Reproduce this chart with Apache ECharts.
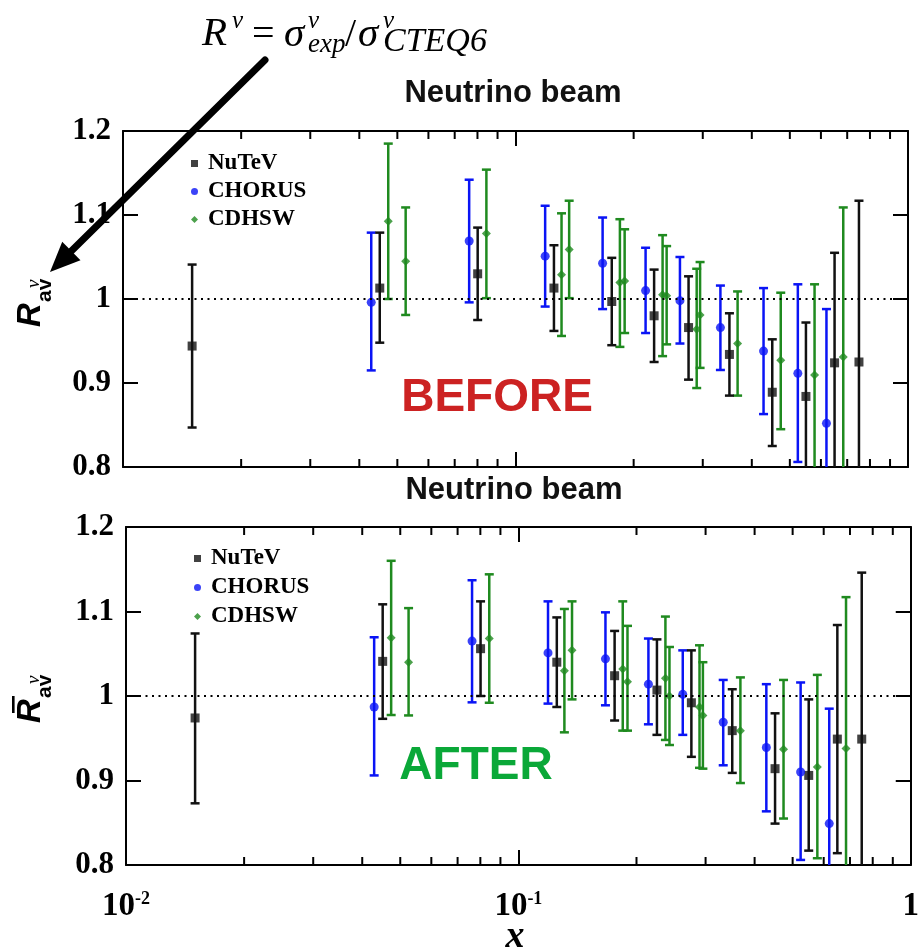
<!DOCTYPE html>
<html><head><meta charset="utf-8">
<script src="https://cdn.jsdelivr.net/npm/echarts@6/dist/echarts.min.js"></script>
<style>html,body{margin:0;padding:0;background:#fff}#c{width:922px;height:951px}</style>
</head><body><div id="c"></div>
<script>
// ---------- tick labels ----------
const xTickValues = [0.01, 0.1, 1];
const xTickBase = ['10', '10', '1'];
const xTickExp = ['-2', '-1', ''];
const xMinorTicks = [0.02,0.03,0.04,0.05,0.06,0.07,0.08,0.09,0.2,0.3,0.4,0.5,0.6,0.7,0.8,0.9];
const yTickValues = [0.8, 0.9, 1.0, 1.1, 1.2];
const yTickLabels = ['0.8', '0.9', '1', '1.1', '1.2'];

// ---------- x bins ----------
const xNuTeV = [0.015, 0.0451, 0.0801, 0.1253, 0.1759, 0.2255, 0.276, 0.3508, 0.451, 0.5495, 0.650, 0.750];
const xCHORUS = [0.0429, 0.0762, 0.119, 0.1667, 0.2145, 0.2624, 0.3327, 0.4285, 0.524, 0.6198];
const xCDHSW = [0.0474, 0.0525, 0.0843, 0.131, 0.137, 0.1845, 0.1897, 0.237, 0.2427, 0.2895, 0.2953, 0.368, 0.474, 0.578, 0.684];

// ---------- BEFORE (top panel) ----------
const beforeNuTeV   = [0.944, 1.013, 1.030, 1.013, 0.997, 0.980, 0.966, 0.934, 0.889, 0.884, 0.924, 0.925];
const beforeNuTeVHi = [1.041, 1.079, 1.085, 1.064, 1.049, 1.035, 1.027, 0.983, 0.952, 0.972, 1.055, 1.117];
const beforeNuTeVLo = [0.847, 0.948, 0.975, 0.962, 0.945, 0.925, 0.904, 0.885, 0.825, 0.796, 0.793, 0.733];
const beforeCHORUS   = [0.996, 1.069, 1.051, 1.0425, 1.010, 0.998, 0.966, 0.938, 0.9115, 0.852];
const beforeCHORUSHi = [1.079, 1.142, 1.111, 1.097, 1.061, 1.050, 1.016, 1.013, 1.0175, 0.988];
const beforeCHORUSLo = [0.915, 0.996, 0.991, 0.988, 0.9595, 0.947, 0.9155, 0.863, 0.806, 0.716];
const beforeCDHSW   = [1.0925, 1.045, 1.078, 1.029, 1.059, 1.0195, 1.0214, 1.005, 1.004, 0.964, 0.981, 0.947, 0.927, 0.9095, 0.931];
const beforeCDHSWHi = [1.185, 1.109, 1.154, 1.102, 1.117, 1.095, 1.083, 1.076, 1.063, 1.036, 1.044, 1.009, 1.0075, 1.0175, 1.109];
const beforeCDHSWLo = [1.000, 0.981, 1.001, 0.956, 1.001, 0.943, 0.9595, 0.932, 0.946, 0.894, 0.918, 0.885, 0.845, 0.798, 0.753];

// ---------- AFTER (bottom panel) ----------
const afterNuTeV   = [0.974, 1.041, 1.056, 1.040, 1.024, 1.007, 0.992, 0.959, 0.914, 0.906, 0.949, 0.949];
const afterNuTeVHi = [1.074, 1.1085, 1.112, 1.093, 1.077, 1.067, 1.054, 1.008, 0.9795, 0.996, 1.084, 1.146];
const afterNuTeVLo = [0.873, 0.973, 1.000, 0.987, 0.971, 0.954, 0.928, 0.909, 0.849, 0.817, 0.814, 0.752];
const afterCHORUS   = [0.987, 1.065, 1.051, 1.044, 1.014, 1.002, 0.969, 0.939, 0.910, 0.849];
const afterCHORUSHi = [1.0695, 1.137, 1.112, 1.099, 1.068, 1.054, 1.019, 1.014, 1.016, 0.985];
const afterCHORUSLo = [0.906, 0.9925, 0.991, 0.989, 0.9665, 0.954, 0.918, 0.8635, 0.806, 0.713];
const afterCDHSW   = [1.069, 1.040, 1.068, 1.030, 1.054, 1.032, 1.017, 1.021, 1.000, 0.987, 0.977, 0.959, 0.937, 0.916, 0.938];
const afterCDHSWHi = [1.160, 1.104, 1.144, 1.103, 1.112, 1.112, 1.083, 1.094, 1.058, 1.060, 1.040, 1.022, 1.019, 1.025, 1.117];
const afterCDHSWLo = [0.9775, 0.977, 0.992, 0.957, 0.996, 0.959, 0.959, 0.948, 0.942, 0.915, 0.914, 0.897, 0.855, 0.808, 0.759];

// ---------- styling ----------
const C_NUTEV = '#111111', C_CHORUS = '#0a14f5', C_CDHSW = '#1f8a1f';
const SERIF = "'Liberation Serif','Times New Roman',serif";
const SANS = "'Liberation Sans',Arial,sans-serif";
const YMIN = 0.8, YMAX = 1.2;

const chart = echarts.init(document.getElementById('c'), null, {renderer: 'canvas'});

function errRender(color) {
  return function (params, api) {
    const x = api.value(0), lo = api.value(1), hi = api.value(2);
    const loC = Math.max(lo, YMIN), hiC = Math.min(hi, YMAX);
    const pHi = api.coord([x, hiC]), pLo = api.coord([x, loC]);
    const cw = 4.5;
    const style = {stroke: color, lineWidth: 2.5};
    const ch = [{type: 'line', shape: {x1: pHi[0], y1: pHi[1], x2: pLo[0], y2: pLo[1]}, style}];
    if (hi <= YMAX) ch.push({type: 'line', shape: {x1: pHi[0] - cw, y1: pHi[1], x2: pHi[0] + cw, y2: pHi[1]}, style});
    if (lo >= YMIN) ch.push({type: 'line', shape: {x1: pLo[0] - cw, y1: pLo[1], x2: pLo[0] + cw, y2: pLo[1]}, style});
    return {type: 'group', children: ch};
  };
}
function minorRender(params, api) {
  const v = api.value(0);
  const b = api.coord([v, YMIN]), t = api.coord([v, YMAX]);
  const L = 8, st = {stroke: '#000', lineWidth: 2};
  return {type: 'group', children: [
    {type: 'line', shape: {x1: b[0], y1: b[1], x2: b[0], y2: b[1] - L}, style: st},
    {type: 'line', shape: {x1: t[0], y1: t[1], x2: t[0], y2: t[1] + L}, style: st}
  ]};
}
const zip3 = (xs, lo, hi) => xs.map((x, i) => [x, lo[i], hi[i]]);
const zip2 = (xs, v) => xs.map((x, i) => [x, v[i]]);

const axisLineStyle = {show: true, onZero: false, lineStyle: {color: '#000', width: 2}};
const tickStyle = {show: true, inside: true, length: 15, lineStyle: {color: '#000', width: 2}};

function xAxes(gi, labels) {
  return [{
    type: 'log', logBase: 10, min: 0.01, max: 1, gridIndex: gi, position: 'bottom',
    axisLine: axisLineStyle, axisTick: tickStyle, splitLine: {show: false},
    axisLabel: {
      show: labels, margin: 25,
      formatter: function (v) {
        let idx = 0, best = 1e9;
        xTickValues.forEach((t, i) => { const d = Math.abs(Math.log10(t) - Math.log10(v)); if (d < best) { best = d; idx = i; } });
        return xTickExp[idx] ? '{b|' + xTickBase[idx] + '}{s|' + xTickExp[idx] + '}' : '{b|' + xTickBase[idx] + '}';
      },
      rich: {
        b: {fontFamily: SERIF, fontWeight: 'bold', fontSize: 33, color: '#000', lineHeight: 33, verticalAlign: 'bottom'},
        s: {fontFamily: SERIF, fontWeight: 'bold', fontSize: 18, color: '#000', lineHeight: 18, verticalAlign: 'top'}
      }
    }
  }, {
    type: 'log', logBase: 10, min: 0.01, max: 1, gridIndex: gi, position: 'top',
    axisLine: axisLineStyle, axisTick: tickStyle, splitLine: {show: false}, axisLabel: {show: false}
  }];
}
function yAxes(gi) {
  return [{
    type: 'value', min: YMIN, max: YMAX, interval: 0.1, gridIndex: gi, position: 'left',
    axisLine: axisLineStyle, axisTick: tickStyle, splitLine: {show: false},
    axisLabel: {
      margin: 12, fontFamily: SERIF, fontWeight: 'bold', fontSize: 31, color: '#000',
      formatter: function (v) {
        let idx = 0, best = 1e9;
        yTickValues.forEach((t, i) => { const d = Math.abs(t - v); if (d < best) { best = d; idx = i; } });
        return yTickLabels[idx];
      }
    }
  }, {
    type: 'value', min: YMIN, max: YMAX, interval: 0.1, gridIndex: gi, position: 'right',
    axisLine: axisLineStyle, axisTick: tickStyle, splitLine: {show: false}, axisLabel: {show: false}
  }];
}

function panelSeries(gi, d) {
  const xi = 2 * gi, yi = 2 * gi;
  return [
    {type: 'custom', name: 'minor' + gi, xAxisIndex: xi, yAxisIndex: yi, renderItem: minorRender,
      data: xMinorTicks.map(v => [v, 1]), silent: true, z: 5},
    {type: 'custom', name: 'errCHORUS' + gi, xAxisIndex: xi, yAxisIndex: yi, renderItem: errRender(C_CHORUS),
      data: zip3(xCHORUS, d.chLo, d.chHi), encode: {x: 0, y: [1, 2]}, z: 3},
    {type: 'custom', name: 'errCDHSW' + gi, xAxisIndex: xi, yAxisIndex: yi, renderItem: errRender(C_CDHSW),
      data: zip3(xCDHSW, d.cdLo, d.cdHi), encode: {x: 0, y: [1, 2]}, z: 3},
    {type: 'custom', name: 'errNuTeV' + gi, xAxisIndex: xi, yAxisIndex: yi, renderItem: errRender(C_NUTEV),
      data: zip3(xNuTeV, d.nuLo, d.nuHi), encode: {x: 0, y: [1, 2]}, z: 3},
    {type: 'scatter', name: 'NuTeV', xAxisIndex: xi, yAxisIndex: yi, symbol: 'rect', symbolSize: 9,
      itemStyle: {color: C_NUTEV}, data: zip2(xNuTeV, d.nu), z: 4,
      markLine: {silent: true, symbol: 'none', label: {show: false},
        lineStyle: {color: '#000', type: [2, 4.5], width: 2}, data: [{yAxis: 1}]}},
    {type: 'scatter', name: 'CHORUS', xAxisIndex: xi, yAxisIndex: yi, symbol: 'circle', symbolSize: 9,
      itemStyle: {color: C_CHORUS}, data: zip2(xCHORUS, d.ch), z: 4},
    {type: 'scatter', name: 'CDHSW', xAxisIndex: xi, yAxisIndex: yi, symbol: 'diamond', symbolSize: 9,
      itemStyle: {color: C_CDHSW}, data: zip2(xCDHSW, d.cd), z: 4}
  ];
}

const legendStyle = (left, top, gap) => ({
  left: left, top: top, orient: 'vertical', padding: 0, itemGap: gap, itemWidth: 7, itemHeight: 7,
  selectedMode: false,
  data: [{name: 'NuTeV', icon: 'rect'}, {name: 'CHORUS', icon: 'circle'}, {name: 'CDHSW', icon: 'diamond'}],
  textStyle: {fontFamily: SERIF, fontWeight: 'bold', fontSize: 23, lineHeight: 21, color: '#000', padding: [0, 0, 0, 5]}
});

// y-axis name as rotated group
function yName(X, Y, bar) {
  const ch = [
    {type: 'text', x: 0, y: 0, style: {text: 'R', font: 'italic bold 33px ' + SANS, fill: '#000', align: 'left', verticalAlign: 'middle'}},
    {type: 'text', x: 25, y: 14, style: {text: 'av', font: 'bold 21px ' + SANS, fill: '#000', align: 'left', verticalAlign: 'middle'}},
    {type: 'text', x: 39, y: 3, style: {text: 'ν', font: 'italic 19px ' + SERIF, fill: '#000', align: 'left', verticalAlign: 'middle'}}
  ];
  if (bar) ch.push({type: 'rect', shape: {x: 10, y: -19, width: 17, height: 2.6}, style: {fill: '#000'}});
  return {type: 'group', x: X, y: Y, rotation: Math.PI / 2, children: ch};
}
function txt(x, y, text, font, fill, align) {
  return {type: 'text', x: x, y: y, style: {text: text, font: font, fill: fill || '#000', align: align || 'left', verticalAlign: 'middle'}};
}

// arrow geometry (annotation)
const aStart = [265, 60], aTip = [50, 272];
const ux = (aTip[0] - aStart[0]), uy = (aTip[1] - aStart[1]);
const ul = Math.hypot(ux, uy), nx = ux / ul, ny = uy / ul;
const hl = 30, hw = 13;
const bx = aTip[0] - hl * nx, by = aTip[1] - hl * ny;

const option = {
  animation: false,
  backgroundColor: '#fff',
  grid: [
    {left: 123, top: 131, width: 785, height: 336},
    {left: 126, top: 527, width: 787, height: 338}
  ],
  xAxis: [...xAxes(0, false), ...xAxes(1, true)],
  yAxis: [...yAxes(0), ...yAxes(1)],
  legend: [legendStyle(191, 152, 5), legendStyle(194, 547, 6)],
  series: [
    ...panelSeries(0, {nu: beforeNuTeV, nuHi: beforeNuTeVHi, nuLo: beforeNuTeVLo,
      ch: beforeCHORUS, chHi: beforeCHORUSHi, chLo: beforeCHORUSLo,
      cd: beforeCDHSW, cdHi: beforeCDHSWHi, cdLo: beforeCDHSWLo}),
    ...panelSeries(1, {nu: afterNuTeV, nuHi: afterNuTeVHi, nuLo: afterNuTeVLo,
      ch: afterCHORUS, chHi: afterCHORUSHi, chLo: afterCHORUSLo,
      cd: afterCDHSW, cdHi: afterCDHSWHi, cdLo: afterCDHSWLo})
  ],
  graphic: [
    // formula
    txt(202, 34, 'R', 'italic 41px ' + SERIF),
    txt(232, 21, 'ν', 'italic 25px ' + SERIF),
    txt(252, 35, '=', '40px ' + SERIF),
    txt(284, 35, 'σ', 'italic 41px ' + SERIF),
    txt(308, 21, 'ν', 'italic 25px ' + SERIF),
    txt(308, 45, 'exp', 'italic 27px ' + SERIF),
    txt(345, 35, '/', '40px ' + SERIF),
    txt(358, 35, 'σ', 'italic 41px ' + SERIF),
    txt(383, 21, 'ν', 'italic 25px ' + SERIF),
    txt(383, 42, 'CTEQ6', 'italic 34px ' + SERIF),
    // arrow
    {type: 'line', shape: {x1: aStart[0], y1: aStart[1], x2: bx, y2: by}, style: {stroke: '#000', lineWidth: 7, lineCap: 'round'}, z: 100},
    {type: 'polygon', shape: {points: [[aTip[0], aTip[1]], [bx + hw * ny, by - hw * nx], [bx - hw * ny, by + hw * nx]]}, style: {fill: '#000'}, z: 100},
    // titles
    txt(513, 93, 'Neutrino beam', 'bold 31px ' + SANS, '#111', 'center'),
    txt(514, 490, 'Neutrino beam', 'bold 31px ' + SANS, '#111', 'center'),
    // axis names
    yName(31, 327, false),
    yName(31, 723, true),
    txt(515, 937, 'x', 'italic bold 38px ' + SERIF, '#000', 'center'),
    // labels
    txt(497, 398, 'BEFORE', 'bold 46px ' + SANS, '#cc2222', 'center'),
    txt(476, 766, 'AFTER', 'bold 46px ' + SANS, '#0aa838', 'center')
  ]
};
chart.setOption(option);
</script>
</body></html>
